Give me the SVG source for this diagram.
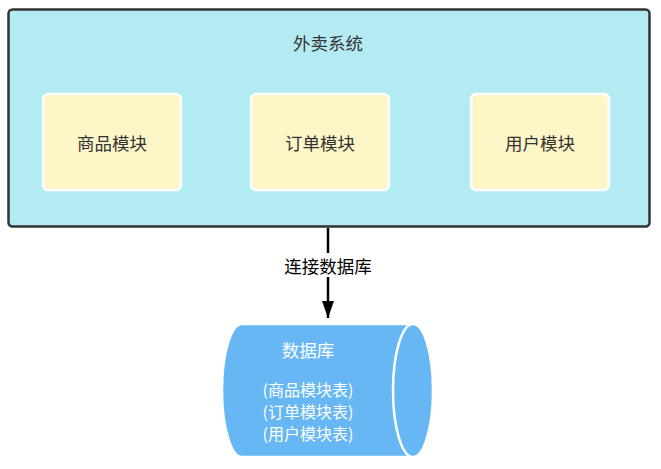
<svg xmlns="http://www.w3.org/2000/svg" width="661" height="469" viewBox="0 0 661 469">
<defs>
<style>
text{font-family:"Noto Sans CJK SC","Liberation Sans",sans-serif;font-size:17.5px;text-anchor:middle;dominant-baseline:central}
.mod{fill:#FFF6C8;stroke:#FFFFFF;stroke-width:2.5}
.lbl{fill:#333333}
.db{fill:#FFFFFF}
.dbs{fill:#FFFFFF;font-size:16px}
</style>
<marker id="arr" markerWidth="17" markerHeight="12" refX="17" refY="6" orient="auto" markerUnits="userSpaceOnUse" viewBox="0 0 17 12">
<path d="M0,0 L17,6 L0,12 Z" fill="#000"/>
</marker>
</defs>
<rect width="661" height="469" fill="#FFFFFF"/>
<g id="system">
<rect x="8.5" y="9.5" width="641" height="217" rx="4" fill="#B3EBF2" stroke="#333333" stroke-width="2.5"/>
<text class="lbl" x="328" y="42">外卖系统</text>
</g>
<g id="goods">
<rect class="mod" x="43" y="94" width="138" height="96" rx="5"/>
<text class="lbl" x="112" y="142">商品模块</text>
</g>
<g id="order">
<rect class="mod" x="251" y="94" width="138" height="96" rx="5"/>
<text class="lbl" x="320" y="142">订单模块</text>
</g>
<g id="user">
<rect class="mod" x="471" y="94" width="138" height="96" rx="5"/>
<text class="lbl" x="540" y="142">用户模块</text>
</g>
<g id="connectors">
<line x1="328" y1="228" x2="328" y2="318" stroke="#000" stroke-width="2.5" marker-end="url(#arr)"/>
<rect x="280" y="253" width="96" height="24" fill="#FFFFFF"/>
<text x="328" y="265" fill="#000">连接数据库</text>
</g>
<g id="database">
<path d="M413,324 L242,324 A20,66.5 0 0 0 242,457 L413,457" fill="#67B7F5" stroke="#FFFFFF" stroke-width="2.5"/>
<ellipse cx="413" cy="390.5" rx="20" ry="66.5" fill="#67B7F5" stroke="#FFFFFF" stroke-width="2.5"/>
<text class="db" x="308" y="349">数据库</text>
<text class="dbs" x="308" y="389">(商品模块表)</text>
<text class="dbs" x="308" y="411">(订单模块表)</text>
<text class="dbs" x="308" y="433">(用户模块表)</text>
</g>
</svg>
